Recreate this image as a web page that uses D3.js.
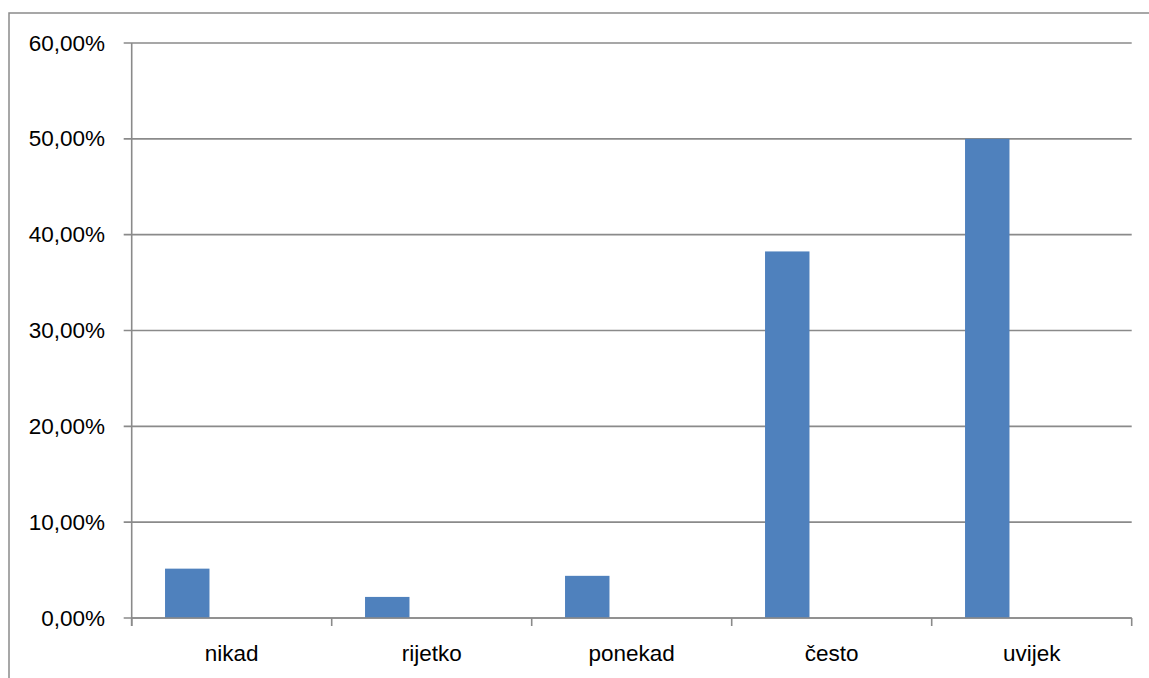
<!DOCTYPE html>
<html>
<head>
<meta charset="utf-8">
<script src="https://cdn.jsdelivr.net/npm/d3@7"></script>
<style>
  html, body { margin: 0; padding: 0; background: #fff; }
  svg { display: block; }
  text { font-family: "Liberation Sans", Arial, sans-serif; fill: #000; }
</style>
</head>
<body>
<svg id="chart" width="1149" height="678"></svg>
<script>
const categories = ["nikad", "rijetko", "ponekad", "često", "uvijek"];
const values = [5.15, 2.2, 4.4, 38.25, 50.0];
const yTicks = [0, 10, 20, 30, 40, 50, 60];
const yTickLabels = ["0,00%", "10,00%", "20,00%", "30,00%", "40,00%", "50,00%", "60,00%"];

(function () {
const svg = d3.select("#chart");
const W = 1149, H = 678;
const pLeft = 131.7, pRight = 1131.7, pTop = 43, pBottom = 618;
const gridColor = "#8a8a8a";

// outer chart border
svg.append("rect")
  .attr("x", 9).attr("y", 13)
  .attr("width", W + 10).attr("height", H + 10)
  .attr("fill", "none").attr("stroke", "#8a8a8a").attr("stroke-width", 1.5);

const x = d3.scaleBand().domain(categories).range([pLeft, pRight]).paddingInner(0).paddingOuter(0);
const y = d3.scaleLinear().domain([0, 60]).range([pBottom, pTop]);

// gridlines
svg.append("g").selectAll("line").data(yTicks).join("line")
  .attr("x1", pLeft - 8).attr("x2", pRight)
  .attr("y1", d => y(d)).attr("y2", d => y(d))
  .attr("stroke", gridColor).attr("stroke-width", 1.6);

// y axis labels
svg.append("g").selectAll("text").data(yTicks).join("text")
  .attr("x", 105).attr("y", d => y(d))
  .attr("text-anchor", "end").attr("dominant-baseline", "central")
  .style("font-size", "22.5px")
  .text((d, i) => yTickLabels[i]);

// bars: first of three slots in each category, gap 150%
const slot = x.bandwidth() / 4.5;
svg.append("g").selectAll("rect").data(values).join("rect")
  .attr("x", (d, i) => x(categories[i]) + slot * 0.75)
  .attr("width", slot)
  .attr("y", d => y(d))
  .attr("height", d => y(0) - y(d))
  .attr("fill", "#4F81BD");

// y axis line
svg.append("line")
  .attr("x1", pLeft).attr("x2", pLeft).attr("y1", pTop).attr("y2", pBottom + 8)
  .attr("stroke", gridColor).attr("stroke-width", 1.6);

// x axis line
svg.append("line")
  .attr("x1", pLeft).attr("x2", pRight).attr("y1", pBottom).attr("y2", pBottom)
  .attr("stroke", gridColor).attr("stroke-width", 1.6);

// category ticks
const tickPos = categories.map(c => x(c)).concat([pRight]);
svg.append("g").selectAll("line").data(tickPos).join("line")
  .attr("x1", d => d).attr("x2", d => d)
  .attr("y1", pBottom).attr("y2", pBottom + 8)
  .attr("stroke", gridColor).attr("stroke-width", 1.6);

// category labels
svg.append("g").selectAll("text").data(categories).join("text")
  .attr("x", d => x(d) + x.bandwidth() / 2).attr("y", 661)
  .attr("text-anchor", "middle")
  .style("font-size", "22.5px")
  .text(d => d);
})();
</script>
</body>
</html>
